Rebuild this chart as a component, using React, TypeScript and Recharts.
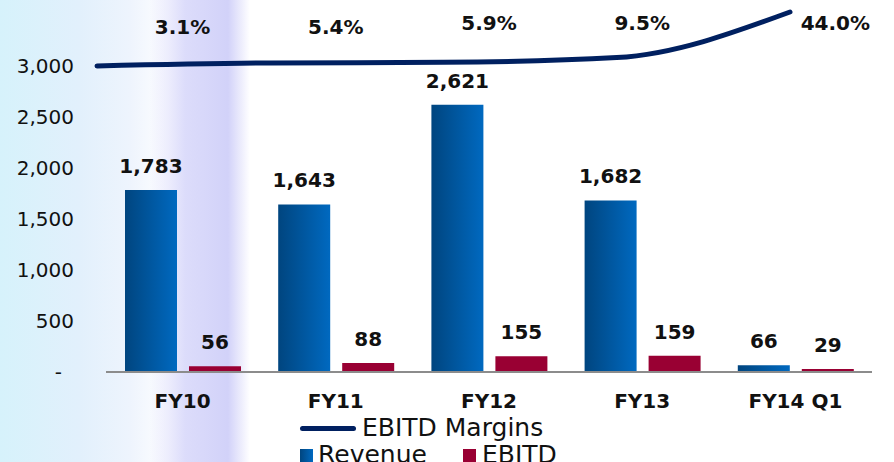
import React from 'react';
import {
  ComposedChart,
  Bar,
  Line,
  XAxis,
  YAxis,
  LabelList,
  Legend,
} from 'recharts';

const categories = ['FY10', 'FY11', 'FY12', 'FY13', 'FY14 Q1'];
const revenue = [1783, 1643, 2621, 1682, 66];
const ebitd = [56, 88, 155, 159, 29];
const margins = [3.1, 5.4, 5.9, 9.5, 44.0];
const revenueTicks = [0, 500, 1000, 1500, 2000, 2500, 3000];

const data = categories.map((name, i) => ({
  name,
  idx: i,
  revenue: revenue[i],
  ebitd: ebitd[i],
  margin: margins[i],
}));

const FONT = "'DejaVu Sans', sans-serif";

const fmt = (v: number) => v.toLocaleString('en-US');

const YTick = (props: any) => {
  const { x, y, payload } = props;
  const isZero = payload.value === 0;
  return (
    <text
      x={isZero ? x - 12 : x}
      y={y}
      dy={7}
      textAnchor="end"
      fontFamily={FONT}
      fontSize={20}
      fill="#111"
    >
      {isZero ? '-' : fmt(payload.value)}
    </text>
  );
};

const MarginLabel = (props: any) => {
  const { x, index, value } = props;
  const last = index === margins.length - 1;
  return (
    <text
      x={x + (last ? 40 : 0)}
      y={index < 2 ? 34 : 30}
      textAnchor="middle"
      fontFamily={FONT}
      fontWeight="bold"
      fontSize={20}
      fill="#111"
    >
      {value.toFixed(1)}%
    </text>
  );
};

const LegendBox = () => (
  <div style={{ position: 'relative', height: 0, fontFamily: FONT, color: '#111' }}>
    <div style={{ position: 'absolute', top: 413, left: 300, display: 'flex', alignItems: 'center', whiteSpace: 'nowrap' }}>
      <span style={{ display: 'inline-block', width: 56, height: 5, borderRadius: 3, background: '#002060', marginRight: 6 }} />
      <span style={{ fontSize: 25, lineHeight: '30px' }}>EBITD Margins</span>
    </div>
    <div style={{ position: 'absolute', top: 440, left: 300, display: 'flex', alignItems: 'center', whiteSpace: 'nowrap' }}>
      <span style={{ display: 'inline-block', width: 13, height: 13, background: 'linear-gradient(90deg,#00457f,#0069c0)', marginRight: 5 }} />
      <span style={{ fontSize: 25, lineHeight: '30px', width: 145 }}>Revenue</span>
      <span style={{ display: 'inline-block', width: 13, height: 13, background: '#990033', marginRight: 6 }} />
      <span style={{ fontSize: 25, lineHeight: '30px' }}>EBITD</span>
    </div>
  </div>
);

export default function App() {
  return (
    <div
      style={{
        position: 'absolute',
        left: 0,
        top: 0,
        width: 894,
        height: 462,
        overflow: 'hidden',
        background:
          'linear-gradient(90deg, rgba(255,255,255,0) 150px, rgba(214,214,250,0.85) 185px, rgba(205,205,248,0.9) 228px, rgba(255,255,255,0) 250px), linear-gradient(90deg, #d6f2fb 0px, #e2f0fc 80px, #eef4fd 130px, #ffffff 170px)',
      }}
    >
      <ComposedChart
        width={894}
        height={462}
        data={data}
        margin={{ top: 12, right: 22, left: 0, bottom: 60 }}
        barCategoryGap={19}
        barGap={12}
      >
        <defs>
          <linearGradient id="revGrad" x1="0" y1="0" x2="1" y2="0">
            <stop offset="0%" stopColor="#00457f" />
            <stop offset="100%" stopColor="#0069c0" />
          </linearGradient>
        </defs>
        <XAxis
          xAxisId="cat"
          dataKey="name"
          padding={{ left: 0, right: 0 }}
          axisLine={{ stroke: '#8c8c8c', strokeWidth: 2 }}
          tickLine={false}
          tickSize={0}
          tickMargin={22}
          tick={{ fill: '#111', fontSize: 20, fontWeight: 'bold', fontFamily: FONT }}
          interval={0}
        />
        <XAxis
          xAxisId="num"
          dataKey="idx"
          type="number"
          domain={[0, 4]}
          padding={{ left: -9, right: 82 }}
          hide
        />
        <YAxis
          yAxisId="left"
          width={106}
          domain={[0, 3529]}
          ticks={revenueTicks}
          axisLine={false}
          tickLine={false}
          tickSize={0}
          tickMargin={32}
          tick={<YTick />}
          interval={0}
        />
        <YAxis yAxisId="pct" domain={[-228.7, 44]} hide />
        <Legend content={<LegendBox />} wrapperStyle={{ left: 0, top: 0, width: 894, height: 0 }} />
        <Bar xAxisId="cat" yAxisId="left" dataKey="revenue" name="Revenue" fill="url(#revGrad)" isAnimationActive={false}>
          <LabelList
            dataKey="revenue"
            position="top"
            offset={17}
            formatter={(v: any) => fmt(v)}
            style={{ fill: '#111', fontSize: 20, fontWeight: 'bold', fontFamily: FONT }}
          />
        </Bar>
        <Bar xAxisId="cat" yAxisId="left" dataKey="ebitd" name="EBITD" fill="#990033" isAnimationActive={false}>
          <LabelList
            dataKey="ebitd"
            position="top"
            offset={17}
            formatter={(v: any) => fmt(v)}
            style={{ fill: '#111', fontSize: 20, fontWeight: 'bold', fontFamily: FONT }}
          />
        </Bar>
        <Line
          xAxisId="num"
          yAxisId="pct"
          dataKey="margin"
          name="EBITD Margins"
          type="monotone"
          stroke="#002060"
          strokeWidth={5}
          strokeLinecap="round"
          dot={false}
          activeDot={false}
          isAnimationActive={false}
        />
        <Line
          xAxisId="cat"
          yAxisId="pct"
          dataKey="margin"
          stroke="none"
          dot={false}
          activeDot={false}
          legendType="none"
          isAnimationActive={false}
        >
          <LabelList dataKey="margin" content={<MarginLabel />} />
        </Line>
      </ComposedChart>
    </div>
  );
}
